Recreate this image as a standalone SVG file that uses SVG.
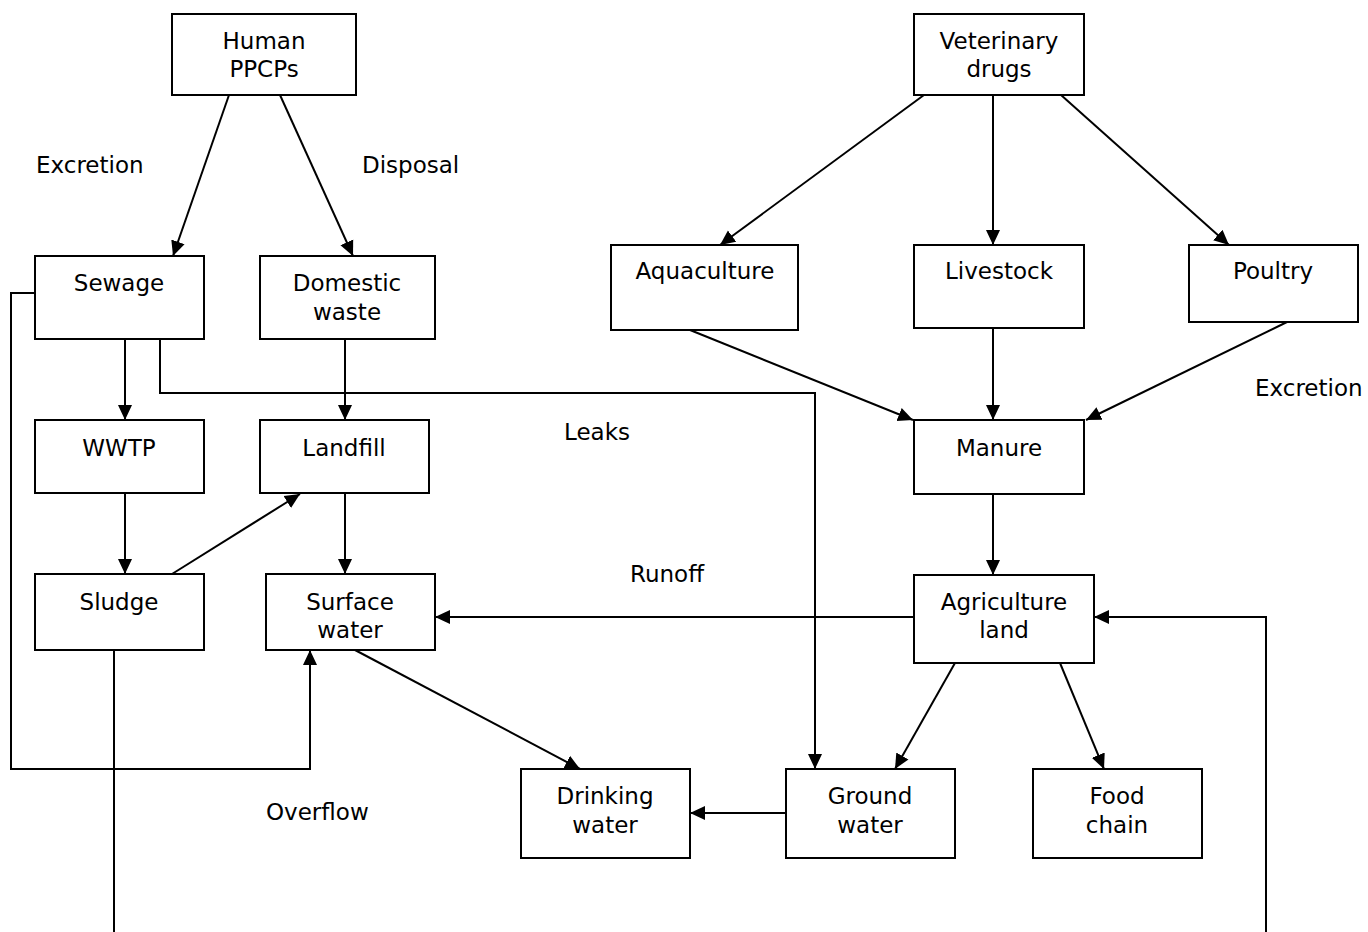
<svg xmlns="http://www.w3.org/2000/svg" width="1368" height="932" viewBox="0 0 1368 932">
<defs>
<marker id="ah" markerUnits="userSpaceOnUse" markerWidth="16" markerHeight="16" viewBox="0 0 16 16" refX="15" refY="8" orient="auto">
<path d="M0,1 L15,8 L0,15 Z" fill="#000"/>
</marker>
</defs>
<style>
.box{fill:#fff;stroke:#000;stroke-width:2}
.t{font-family:"DejaVu Sans",Verdana,sans-serif;font-size:23px;fill:#000;text-anchor:middle}
.l{font-family:"DejaVu Sans",Verdana,sans-serif;font-size:23px;fill:#000}
.c{fill:none;stroke:#000;stroke-width:2}
.a{fill:none;stroke:#000;stroke-width:2;marker-end:url(#ah)}
</style>
<rect width="1368" height="932" fill="#fff"/>
<g id="connectors">
<path class="a" d="M229,95 L173,256"/>
<path class="a" d="M280,95 L353,256"/>
<path class="a" d="M125,339 L125,420"/>
<path class="a" d="M160,339 L160,393 L815,393 L815,769"/>
<path class="a" d="M345,339 L345,420"/>
<path class="a" d="M125,493 L125,574"/>
<path class="a" d="M172,574 L300,494"/>
<path class="a" d="M345,493 L345,574"/>
<path class="a" d="M35,293 L11,293 L11,769 L310,769 L310,650"/>
<path class="c" d="M114,650 L114,932"/>
<path class="a" d="M355,650 L580,769"/>
<path class="a" d="M786,813 L690,813"/>
<path class="a" d="M914,617 L435,617"/>
<path class="a" d="M955,663 L895,769"/>
<path class="a" d="M1060,663 L1104,769"/>
<path class="a" d="M1266,932 L1266,617 L1094,617"/>
<path class="a" d="M924,95 L720,245"/>
<path class="a" d="M993,95 L993,245"/>
<path class="a" d="M1061,95 L1229,245"/>
<path class="a" d="M690,330 L913,420"/>
<path class="a" d="M993,328 L993,420"/>
<path class="a" d="M1287,322 L1086,420"/>
<path class="a" d="M993,494 L993,575"/>
</g>
<g id="human"><rect class="box" x="172" y="14" width="184" height="81"/><text class="t" x="264" y="49">Human</text><text class="t" x="264" y="77">PPCPs</text></g>
<g id="sewage"><rect class="box" x="35" y="256" width="169" height="83"/><text class="t" x="119" y="291">Sewage</text></g>
<g id="domestic"><rect class="box" x="260" y="256" width="175" height="83"/><text class="t" x="347" y="291">Domestic</text><text class="t" x="347" y="320">waste</text></g>
<g id="wwtp"><rect class="box" x="35" y="420" width="169" height="73"/><text class="t" x="119" y="456">WWTP</text></g>
<g id="landfill"><rect class="box" x="260" y="420" width="169" height="73"/><text class="t" x="344" y="456">Landfill</text></g>
<g id="sludge"><rect class="box" x="35" y="574" width="169" height="76"/><text class="t" x="119" y="610">Sludge</text></g>
<g id="surface"><rect class="box" x="266" y="574" width="169" height="76"/><text class="t" x="350" y="610">Surface</text><text class="t" x="350" y="638">water</text></g>
<g id="vet"><rect class="box" x="914" y="14" width="170" height="81"/><text class="t" x="999" y="49">Veterinary</text><text class="t" x="999" y="77">drugs</text></g>
<g id="aqua"><rect class="box" x="611" y="245" width="187" height="85"/><text class="t" x="705" y="279">Aquaculture</text></g>
<g id="livestock"><rect class="box" x="914" y="245" width="170" height="83"/><text class="t" x="999" y="279">Livestock</text></g>
<g id="poultry"><rect class="box" x="1189" y="245" width="169" height="77"/><text class="t" x="1273" y="279">Poultry</text></g>
<g id="manure"><rect class="box" x="914" y="420" width="170" height="74"/><text class="t" x="999" y="456">Manure</text></g>
<g id="agri"><rect class="box" x="914" y="575" width="180" height="88"/><text class="t" x="1004" y="610">Agriculture</text><text class="t" x="1004" y="638">land</text></g>
<g id="drinking"><rect class="box" x="521" y="769" width="169" height="89"/><text class="t" x="605" y="804">Drinking</text><text class="t" x="605" y="833">water</text></g>
<g id="ground"><rect class="box" x="786" y="769" width="169" height="89"/><text class="t" x="870" y="804">Ground</text><text class="t" x="870" y="833">water</text></g>
<g id="food"><rect class="box" x="1033" y="769" width="169" height="89"/><text class="t" x="1117" y="804">Food</text><text class="t" x="1117" y="833">chain</text></g>
<g id="labels">
<text class="l" x="36" y="173">Excretion</text>
<text class="l" x="362" y="173">Disposal</text>
<text class="l" x="564" y="440">Leaks</text>
<text class="l" x="630" y="582">Runoff</text>
<text class="l" x="266" y="820">Overflow</text>
<text class="l" x="1255" y="396">Excretion</text>
</g>
</svg>
